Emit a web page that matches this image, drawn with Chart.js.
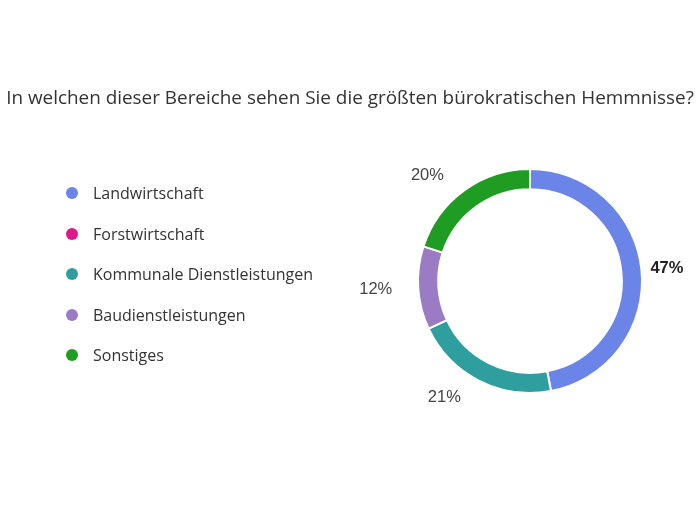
<!DOCTYPE html>
<html>
<head>
<meta charset="utf-8">
<script src="https://cdn.jsdelivr.net/npm/chart.js@4"></script>
<style>
  body { margin: 0; background: #fff; }
  #wrap { position: relative; width: 700px; height: 525px; }
  #titre { position: absolute; left: 0; top: 85px; width: 700px; text-align: center; white-space: nowrap;
           font-family: "Open Sans", sans-serif; font-size: 18.9px; line-height: 24px; color: #333; }
  #legende { position: absolute; left: 0; top: 0; font-family: "Open Sans", sans-serif; font-size: 16px; color: #333; }
  .item { position: absolute; left: 66px; white-space: nowrap; line-height: 20px; }
  .dot { position: absolute; left: 0; top: 4px; width: 12px; height: 12px; border-radius: 50%; }
  .txt { position: absolute; left: 27px; top: 0; }
</style>
</head>
<body>
<div id="wrap">
  <canvas id="myChart" width="700" height="525"></canvas>
  <div id="titre"></div>
  <div id="legende"></div>
</div>
<script>
// donnees
var titre = 'In welchen dieser Bereiche sehen Sie die größten bürokratischen Hemmnisse?';
var categories = ['Landwirtschaft', 'Forstwirtschaft', 'Kommunale Dienstleistungen', 'Baudienstleistungen', 'Sonstiges'];
var valeurs = [47, 0, 21, 12, 20];
var couleurs = ['#6b84e8', '#e0168b', '#2f9e9e', '#9a7bc4', '#1f9c22'];

document.getElementById('titre').innerText = titre;

// legende en html
var legende = document.getElementById('legende');
categories.forEach(function(cat, i) {
    var item = document.createElement('div');
    item.className = 'item';
    item.style.top = (183 + i * 40.5) + 'px';
    var dot = document.createElement('span');
    dot.className = 'dot';
    dot.style.background = couleurs[i];
    var txt = document.createElement('span');
    txt.className = 'txt';
    txt.innerText = cat;
    item.appendChild(dot);
    item.appendChild(txt);
    legende.appendChild(item);
});

// pourcentages autour de l'anneau
var etiquettes = {
    id: 'etiquettes',
    afterDatasetsDraw: function(chart) {
        var ctx = chart.ctx;
        var meta = chart.getDatasetMeta(0);
        var data = chart.data.datasets[0].data;
        var total = data.reduce(function(a, b) { return a + b; }, 0);
        var max = Math.max.apply(null, data);
        ctx.save();
        meta.data.forEach(function(arc, i) {
            if (!data[i]) return;
            var p = arc.getProps(['x', 'y', 'startAngle', 'endAngle', 'outerRadius'], true);
            var mid = (p.startAngle + p.endAngle) / 2;
            var c = Math.cos(mid), s = Math.sin(mid);
            var x = p.x + (p.outerRadius + 14) * c + (c >= 0 ? -5 : -12);
            var y = p.y + (p.outerRadius + 19) * s;
            ctx.textAlign = c >= 0 ? 'left' : 'right';
            ctx.textBaseline = 'middle';
            ctx.font = (data[i] === max ? 'bold ' : '') + '16.5px "Liberation Sans", Arial, sans-serif';
            ctx.fillStyle = data[i] === max ? '#222' : '#444';
            ctx.fillText(Math.round(data[i] / total * 100) + '%', x, y);
        });
        ctx.restore();
    }
};

var ctx = document.getElementById('myChart').getContext('2d');
var myChart = new Chart(ctx, {
    type: 'doughnut',
    data: {
        labels: categories,
        datasets: [{
            data: valeurs,
            backgroundColor: couleurs,
            borderColor: '#fff',
            borderWidth: 2
        }]
    },
    options: {
        responsive: false,
        animation: false,
        cutout: '82%',
        layout: { padding: { left: 417, right: 57, top: 168, bottom: 131 } },
        plugins: {
            legend: { display: false },
            tooltip: { enabled: false },
            title: { display: false }
        }
    },
    plugins: [etiquettes]
});
</script>
</body>
</html>
